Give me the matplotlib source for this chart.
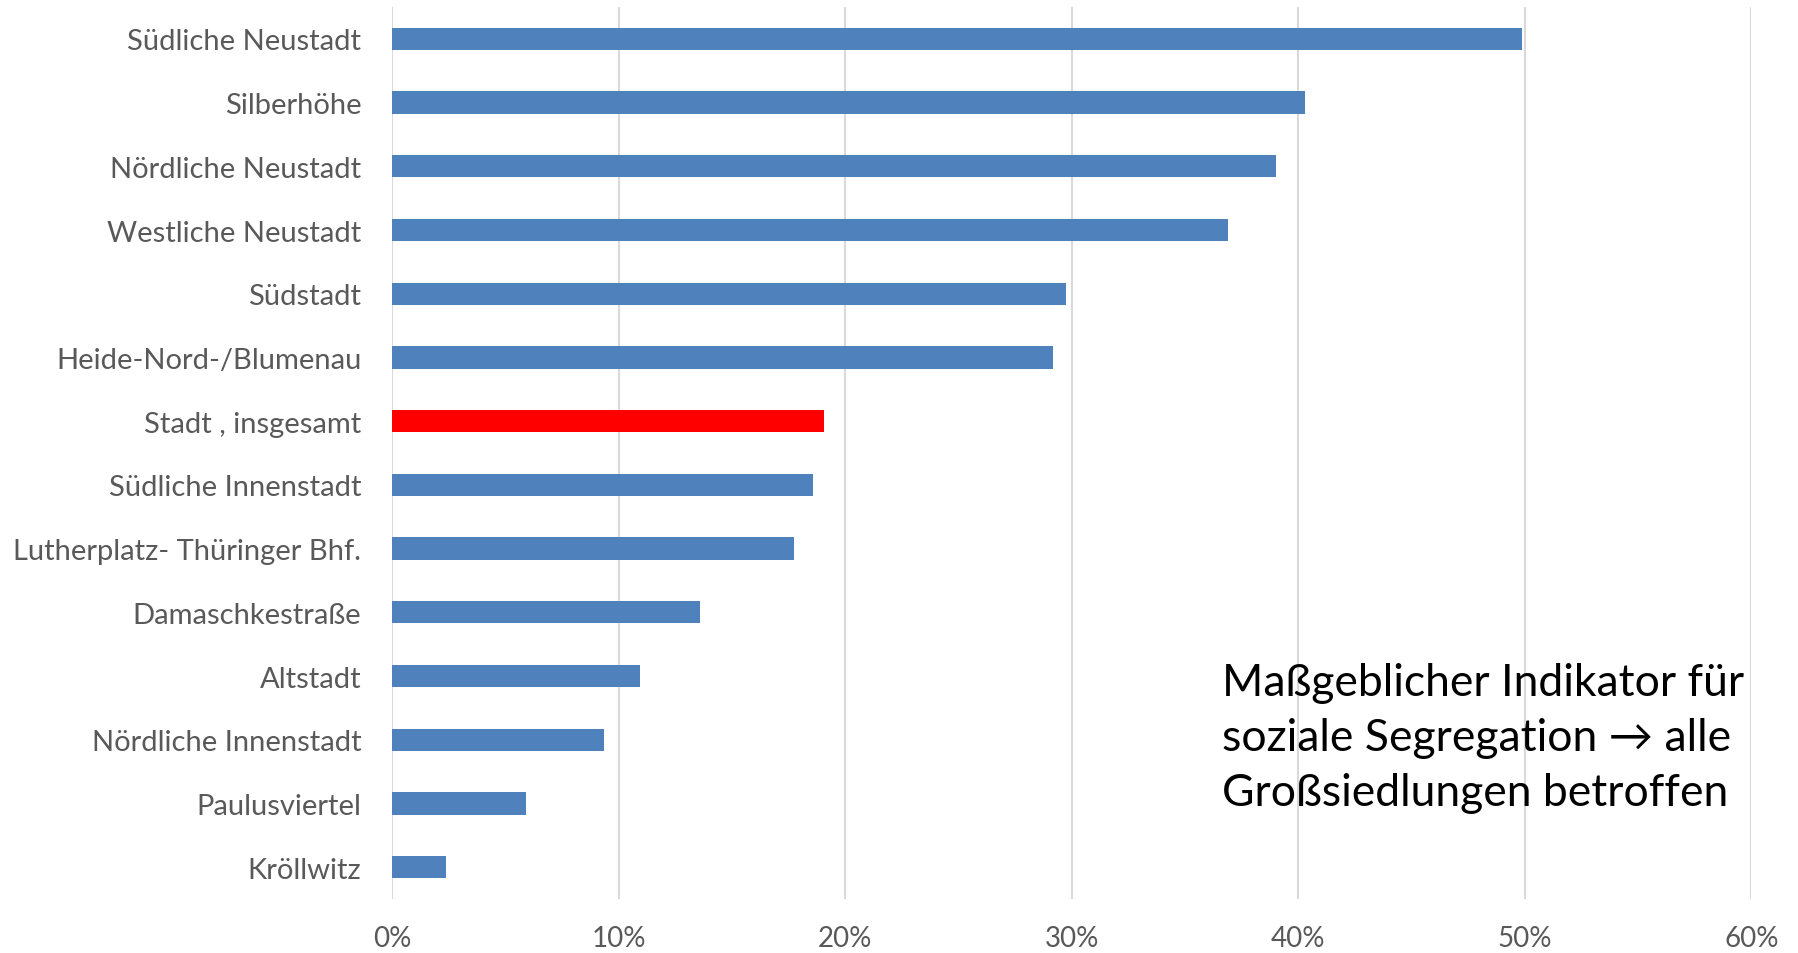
import matplotlib
matplotlib.use("Agg")
import matplotlib.pyplot as plt
from matplotlib.ticker import FuncFormatter

categories = ["Südliche Neustadt", "Silberhöhe", "Nördliche Neustadt", "Westliche Neustadt",
              "Südstadt", "Heide-Nord-/Blumenau", "Stadt , insgesamt", "Südliche Innenstadt",
              "Lutherplatz- Thüringer Bhf.", "Damaschkestraße", "Altstadt",
              "Nördliche Innenstadt", "Paulusviertel", "Kröllwitz"]
values = [49.9, 40.3, 39.0, 36.9, 29.75, 29.2, 19.05, 18.6, 17.75, 13.6, 10.95, 9.35, 5.9, 2.4]
highlight = "Stadt , insgesamt"
xticks = [0, 10, 20, 30, 40, 50, 60]

plt.rcParams['font.family'] = ['Lato', 'DejaVu Sans']

fig = plt.figure(figsize=(17.98, 9.54), dpi=100)
ax = fig.add_axes([0.218, 0.0566, 0.756, 0.935])

ypos = list(range(len(categories)))
colors = ["#FF0000" if c == highlight else "#4F81BD" for c in categories]
ax.barh(ypos, values, height=0.35, color=colors, zorder=3)

ax.set_ylim(len(categories) - 0.5, -0.5)
ax.set_xlim(0, 60)
ax.set_yticks(ypos)
ax.set_yticklabels(categories, fontsize=21, color="#595959")
ax.set_xticks(xticks)
ax.xaxis.set_major_formatter(FuncFormatter(lambda v, p: f"{int(v)}%"))
ax.tick_params(axis='x', labelsize=20, colors="#595959", length=0, pad=19)
ax.tick_params(axis='y', length=0, pad=22)
ax.grid(axis='x', color="#D9D9D9", linewidth=1.5, zorder=0)
for s in ax.spines.values():
    s.set_visible(False)

fig.text(1222 / 1798, 1 - 663 / 954,
         "Maßgeblicher Indikator für\nsoziale Segregation → alle\nGroßsiedlungen betroffen",
         fontsize=32, color="black", va="top", ha="left", linespacing=1.42)

fig.savefig("out.png", dpi=100)
